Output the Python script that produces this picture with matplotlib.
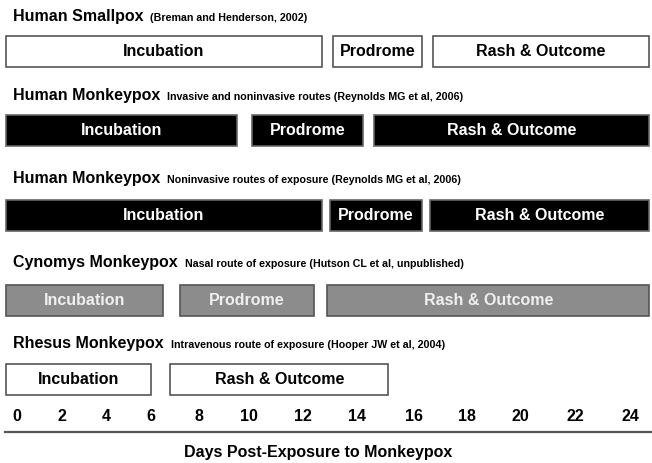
import numpy as np
import matplotlib
matplotlib.use("Agg")
import matplotlib.pyplot as plt
from matplotlib.transforms import blended_transform_factory

plt.rcParams['font.family'] = ['Liberation Sans', 'DejaVu Sans']

# Data
species = ["Human Smallpox", "Human Monkeypox", "Human Monkeypox",
           "Cynomys Monkeypox", "Rhesus Monkeypox"]
sources = ["(Breman and Henderson, 2002)",
           "Invasive and noninvasive routes (Reynolds MG et al, 2006)",
           "Noninvasive routes of exposure (Reynolds MG et al, 2006)",
           "Nasal route of exposure (Hutson CL et al, unpublished)",
           "Intravenous route of exposure (Hooper JW et al, 2004)"]
incubation_start = [-0.5, -0.5, -0.5, -0.5, -0.5]
incubation_end = [12.7, 9.5, 12.7, 6.5, 6.0]
prodrome_start = [13.1, 10.1, 13.0, 7.2, None]
prodrome_end = [16.3, 14.2, 16.3, 12.4, None]
rash_start = [16.7, 14.6, 16.6, 12.9, 6.8]
rash_end = [24.7, 24.7, 24.7, 24.7, 15.1]
day_ticks = [0, 2, 4, 6, 8, 10, 12, 14, 16, 18, 20, 22, 24]

# the day axis in the original is drawn by hand, spacing widens to the right
tick_px = np.array([17, 62, 106, 151, 199, 249, 303, 357, 414, 467, 520, 575, 630], float)
days = np.array(day_ticks, float)


def fwd(d):
    d = np.asarray(d, float)
    out = np.interp(d, days, tick_px)
    out = np.where(d < days[0], tick_px[0] + (d - days[0]) * 22.5, out)
    out = np.where(d > days[-1], tick_px[-1] + (d - days[-1]) * 27.5, out)
    return out


def inv(p):
    p = np.asarray(p, float)
    out = np.interp(p, tick_px, days)
    out = np.where(p < tick_px[0], days[0] + (p - tick_px[0]) / 22.5, out)
    out = np.where(p > tick_px[-1], days[-1] + (p - tick_px[-1]) / 27.5, out)
    return out


# row styles: fill, edge, text colour
styles = [("white", "#555555", "black"),
          ("black", "#666666", "white"),
          ("black", "#666666", "white"),
          ("#8c8c8c", "#555555", "#f0f0f0"),
          ("white", "#555555", "black")]
bar_y = [51.5, 130.5, 215.5, 300.5, 379.5]
title_y = [21, 100, 183, 267, 348]

fig = plt.figure(figsize=(6.52, 4.63), dpi=100)
ax = fig.add_axes([0, 0, 1, 1])
ax.set_xscale('function', functions=(fwd, inv))
ax.set_xlim(float(inv(0)), float(inv(652)))
ax.set_ylim(463, 0)

blend = blended_transform_factory(ax.transAxes, ax.transData)

for i in range(len(species)):
    fc, ec, tc = styles[i]
    phases = [("Incubation", incubation_start[i], incubation_end[i]),
              ("Prodrome", prodrome_start[i], prodrome_end[i]),
              ("Rash & Outcome", rash_start[i], rash_end[i])]
    for name, s, e in phases:
        if s is None:
            continue
        ax.barh(bar_y[i], e - s, left=s, height=31, color=fc,
                edgecolor=ec, linewidth=1.2)
        mid = float(inv((fwd(s) + fwd(e)) / 2))
        ax.text(mid, bar_y[i], name, ha='center', va='center',
                fontsize=11.5, fontweight='bold', color=tc)
    t = ax.text(13 / 652, title_y[i], species[i], transform=blend,
                ha='left', va='baseline', fontsize=11.5, fontweight='bold')
    ax.annotate(sources[i], xy=(1, title_y[i]), xycoords=(t, 'data'),
                xytext=(5, 0), textcoords='offset points',
                ha='left', va='baseline', fontsize=7.7, fontweight='bold')

# axis line with labels above it
for s in ['left', 'right', 'bottom']:
    ax.spines[s].set_visible(False)
ax.spines['top'].set_position(('data', 432))
ax.spines['top'].set_color('#555555')
ax.spines['top'].set_linewidth(1.6)
ax.spines['top'].set_bounds(float(inv(5)), float(inv(652)))
ax.xaxis.tick_top()
ax.set_xticks(day_ticks)
ax.set_xticklabels([str(d) for d in day_ticks], fontsize=11.5, fontweight='bold')
ax.tick_params(axis='x', length=0, pad=6)
ax.set_yticks([])

ax.text(318 / 652, 452, "Days Post-Exposure to Monkeypox", transform=blend,
        ha='center', va='center', fontsize=11.5, fontweight='bold')

fig.savefig("out.png", dpi=100)
